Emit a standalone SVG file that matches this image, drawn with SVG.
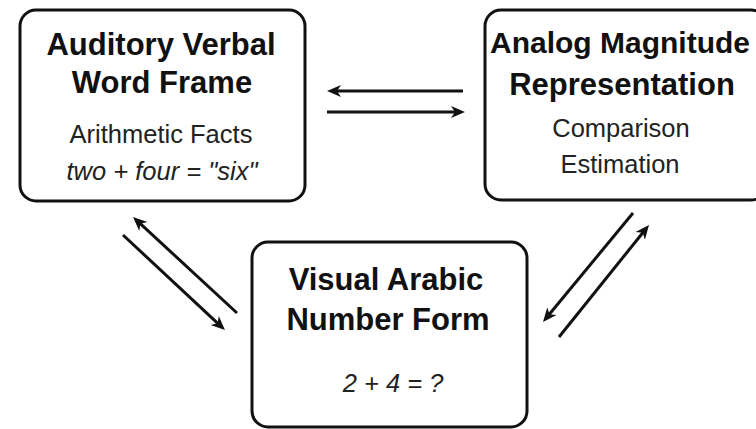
<svg xmlns="http://www.w3.org/2000/svg" width="756" height="429" viewBox="0 0 756 429">
<style>
.box{fill:#fff;stroke:#111;stroke-width:3}
.title{font-family:"Liberation Sans",Arial,sans-serif;font-weight:bold;font-size:31px;fill:#111;text-anchor:middle}
.sub{font-family:"Liberation Sans",Arial,sans-serif;font-size:25.5px;fill:#222;text-anchor:middle}
.it{font-style:italic}
.conn{stroke:#111;stroke-width:3;fill:none;marker-end:url(#ah)}
</style>
<defs>
<marker id="ah" markerUnits="userSpaceOnUse" markerWidth="16" markerHeight="14" refX="6" refY="6" orient="auto" viewBox="0 0 16 12">
<path d="M0,0 L14,6 L0,12 L4,6 Z" fill="#111"/>
</marker>
</defs>
<rect width="756" height="429" fill="#fff"/>
<g id="auditory">
<rect class="box" x="20" y="10" width="285" height="191" rx="16"/>
<text class="title" x="161" y="55">Auditory Verbal</text>
<text class="title" x="162" y="93">Word Frame</text>
<text class="sub" x="161" y="143">Arithmetic Facts</text>
<text class="sub it" x="162" y="180">two + four = "six"</text>
</g>
<g id="analog">
<rect class="box" x="485" y="10" width="282" height="190" rx="16"/>
<text class="title" x="620" y="53" style="font-size:30px">Analog Magnitude</text>
<text class="title" x="622" y="95">Representation</text>
<text class="sub" x="621" y="137">Comparison</text>
<text class="sub" x="620" y="173">Estimation</text>
</g>
<g id="visual">
<rect class="box" x="252" y="242" width="275" height="185" rx="16"/>
<text class="title" x="386" y="290">Visual Arabic</text>
<text class="title" x="388" y="330">Number Form</text>
<text class="sub it" x="393" y="392">2 + 4 = ?</text>
</g>
<g id="connectors">
<line class="conn" x1="463" y1="91" x2="335" y2="91"/>
<line class="conn" x1="327" y1="112" x2="457" y2="112"/>
<line class="conn" x1="237" y1="313" x2="138.9" y2="222.4"/>
<line class="conn" x1="123" y1="235" x2="219.1" y2="324.6"/>
<line class="conn" x1="633" y1="213" x2="548.1" y2="315.8"/>
<line class="conn" x1="559" y1="337" x2="644" y2="231.2"/>
</g>
</svg>
